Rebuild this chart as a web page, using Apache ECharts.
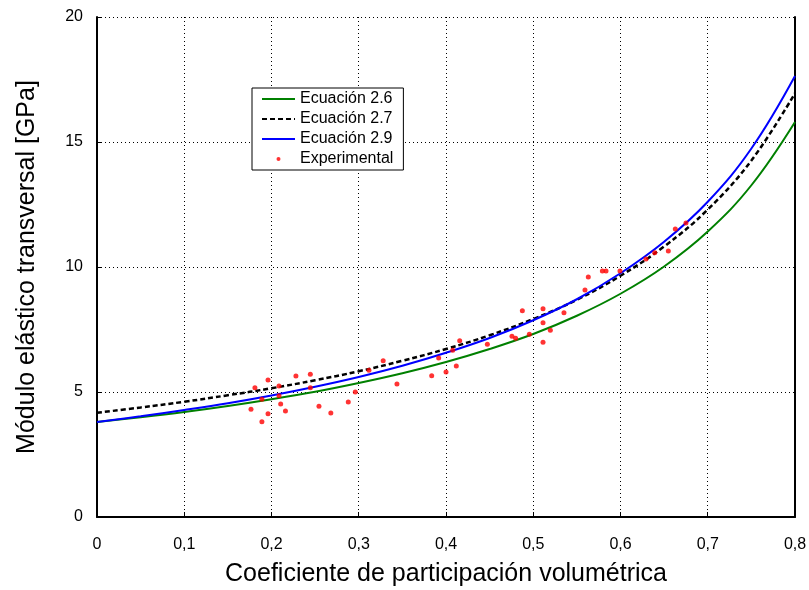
<!DOCTYPE html>
<html><head><meta charset="utf-8">
<script src="https://cdn.jsdelivr.net/npm/echarts@6/dist/echarts.min.js"></script>
<style>html,body{margin:0;padding:0;background:#fff}#c{width:809px;height:590px}</style>
</head><body><div id="c"></div>
<script>
const fractions = [0, 0.05, 0.1, 0.15, 0.2, 0.25, 0.3, 0.35, 0.4, 0.45, 0.5, 0.55, 0.6, 0.65, 0.7, 0.75, 0.8];
const eq26 = [3.80, 3.99, 4.20, 4.44, 4.71, 5.01, 5.36, 5.75, 6.20, 6.72, 7.32, 8.05, 8.93, 10.02, 11.42, 13.27, 15.80];
const eq27 = [4.17, 4.38, 4.61, 4.87, 5.15, 5.47, 5.83, 6.25, 6.72, 7.27, 7.92, 8.69, 9.65, 10.82, 12.30, 14.26, 16.95];
const eq29 = [3.80, 4.03, 4.28, 4.55, 4.86, 5.21, 5.60, 6.05, 6.57, 7.16, 7.87, 8.71, 9.75, 11.01, 12.61, 14.74, 17.64];
const expX = [0.181,0.196,0.189,0.1765,0.189,0.196,0.2086,0.2086,0.2105,0.216,0.228,0.2445,0.2445,0.2544,0.268,0.288,0.296,0.3117,0.328,0.3438,0.3836,0.3916,0.4,0.4077,0.4118,0.4157,0.4474,0.4756,0.4798,0.4875,0.4955,0.5112,0.5112,0.5112,0.5196,0.5352,0.5593,0.5631,0.5792,0.5834,0.5994,0.6292,0.6392,0.6548,0.6628,0.675];
const expY = [5.17,5.48,4.71,4.31,3.81,4.13,5.24,4.85,4.52,4.24,5.64,5.71,5.17,4.43,4.16,4.6,5.0,5.87,6.25,5.32,5.65,6.36,5.8,6.67,6.04,7.05,6.91,7.23,7.15,8.25,7.31,8.33,7.77,6.99,7.47,8.17,9.08,9.6,9.84,9.84,9.84,10.32,10.57,10.64,11.52,11.76];
const xTickLabels = ['0','0,1','0,2','0,3','0,4','0,5','0,6','0,7','0,8'];
const yTickLabels = ['0','5','10','15','20'];
const names = ['Ecuación 2.6','Ecuación 2.7','Ecuación 2.9','Experimental'];

const font = 'Liberation Sans, Arial, sans-serif';
const chart = echarts.init(document.getElementById('c'), null, {renderer:'canvas'});
const pair = (xs, ys) => xs.map((x, i) => [x, ys[i]]);
const dotted = {show:true, lineStyle:{color:'#000', width:1, type:[1,3]}};
const hiddenSymbol = {opacity:0};
chart.setOption({
  animation:false,
  backgroundColor:'#fff',
  grid:{left:97, right:14, top:17, bottom:73, containLabel:false, outerBoundsMode:'none'},
  legend:{
    orient:'vertical', left:252, top:88,
    data:[
      {name:names[0], itemStyle:hiddenSymbol},
      {name:names[1], itemStyle:hiddenSymbol},
      {name:names[2], itemStyle:hiddenSymbol},
      {name:names[3], icon:'path://M0 0M33 16M14.5 8a2 2 0 1 0 4 0a2 2 0 1 0 -4 0z'}
    ],
    itemWidth:33, itemHeight:16, itemGap:4,
    padding:[3,10,3,9],
    borderColor:'#000', borderWidth:1, backgroundColor:'#fff', borderRadius:0,
    textStyle:{fontFamily:font, fontSize:16, color:'#000'}
  },
  xAxis:{
    type:'value', min:0, max:0.8, interval:0.1,
    name:'Coeficiente de participación volumétrica', nameLocation:'middle', nameGap:45,
    nameTextStyle:{fontFamily:font, fontSize:25, color:'#000'},
    axisLine:{show:true, onZero:false, lineStyle:{color:'#000', width:2}},
    axisTick:{show:true, inside:true, length:5, lineStyle:{color:'#000', width:1}},
    axisLabel:{margin:20, fontFamily:font, fontSize:16, color:'#000',
      formatter:v => xTickLabels[Math.round(v*10)]},
    splitLine:dotted
  },
  yAxis:[{
    type:'value', min:0, max:20, interval:5,
    name:'Módulo elástico transversal [GPa]', nameLocation:'middle', nameGap:57, nameRotate:90,
    nameTextStyle:{fontFamily:font, fontSize:25, color:'#000'},
    axisLine:{show:true, onZero:false, lineStyle:{color:'#000', width:2}},
    axisTick:{show:true, inside:true, length:5, lineStyle:{color:'#000', width:1}},
    axisLabel:{margin:14, fontFamily:font, fontSize:16, color:'#000',
      formatter:v => yTickLabels[Math.round(v/5)]},
    splitLine:dotted
  },{
    type:'value', min:0, max:20, interval:5, position:'right',
    axisLine:{show:true, onZero:false, lineStyle:{color:'#000', width:2}},
    axisTick:{show:false}, axisLabel:{show:false}, splitLine:{show:false}
  }],
  series:[
    {name:names[0], type:'line', data:pair(fractions, eq26), smooth:0.4, symbol:'none',
      lineStyle:{color:'#008000', width:2}, itemStyle:{color:'#008000'}},
    {name:names[1], type:'line', data:pair(fractions, eq27), smooth:0.4, symbol:'none',
      lineStyle:{color:'#000', width:2.5, type:[5,3]}, itemStyle:{color:'#000'}},
    {name:names[2], type:'line', data:pair(fractions, eq29), smooth:0.4, symbol:'none',
      lineStyle:{color:'#0000ff', width:2}, itemStyle:{color:'#0000ff'}},
    {name:names[3], type:'scatter', data:pair(expX, expY), symbol:'circle', symbolSize:5,
      itemStyle:{color:'#ff0000'}, z:5}
  ]
});
</script></body></html>
